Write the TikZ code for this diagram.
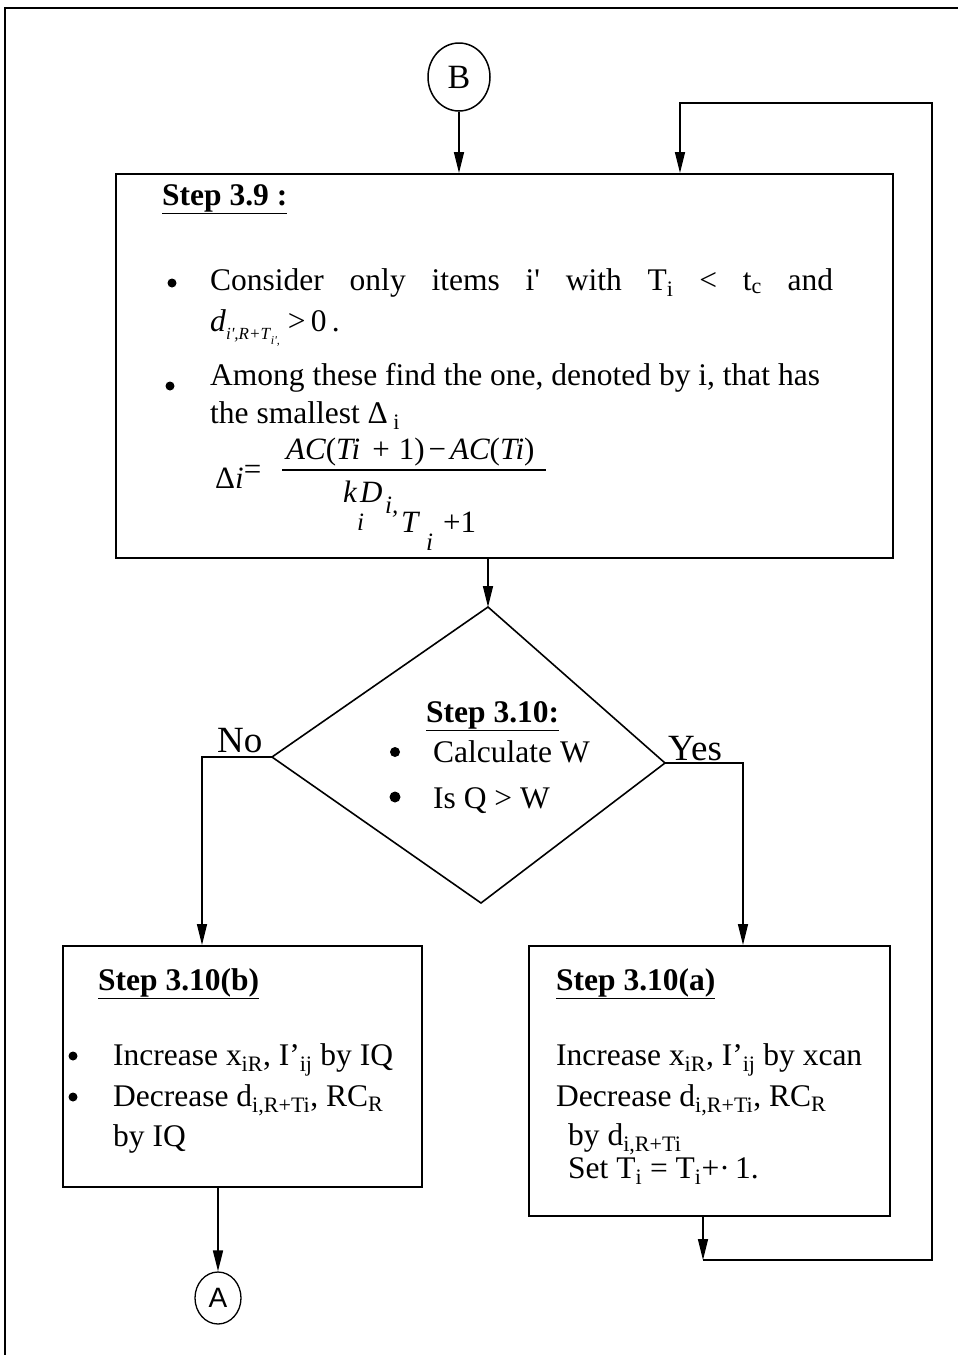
\documentclass[tikz,border=0pt]{standalone}
\usepackage{fontspec}
\setmainfont{Liberation Serif}
\newfontfamily\sansA{Liberation Sans}
\usetikzlibrary{shapes.geometric,arrows.meta}
\begin{document}
\begin{tikzpicture}[x=1pt,y=-1pt,
  box/.style={draw,line width=1.8pt,rectangle,inner sep=0pt,anchor=north west},
  conn/.style={line width=1.6pt},
  arr/.style={conn,-{Triangle[width=10pt,length=21pt]}},
  txt/.style={anchor=base west,inner sep=0pt,font=\fontsize{31.5}{36}\selectfont},
  fml/.style={anchor=base west,inner sep=0pt,font=\fontsize{31}{33}\selectfont\itshape},
  fmlsub/.style={anchor=base west,inner sep=0pt,font=\fontsize{25}{27}\selectfont\itshape},
  big/.style={anchor=base west,inner sep=0pt,font=\fontsize{37}{40}\selectfont},
  dot/.style={circle,fill,inner sep=0pt,minimum size=#1},
  frame/.style={line width=1.2pt}]
\useasboundingbox (0,0) rectangle (958,1355);
% outer frame
\coordinate (fr1) at (5,1355);
\coordinate (fr2) at (5,8);
\coordinate (fr3) at (958,8);
\draw[frame] (fr1) -- (fr2) -- (fr3);

% shapes
\node[draw,ellipse,line width=1.5pt,minimum width=62pt,minimum height=68pt,inner sep=0pt,font=\fontsize{34}{35}\selectfont] (B) at (459,77) {B};
\node[box,minimum width=777pt,minimum height=384pt] (s39) at (115,173) {};
\coordinate (dT) at (488,607);
\coordinate (dL) at (272,757);
\coordinate (dR) at (665,763);
\coordinate (dB) at (481,903);
\draw[line width=1.6pt] (dT) -- (dR) -- (dB) -- (dL) -- cycle;
\node[box,minimum width=359pt,minimum height=241pt] (sb) at (62,945) {};
\node[box,minimum width=361pt,minimum height=270pt] (sa) at (528,945) {};
\node[draw,ellipse,line width=1.3pt,minimum width=46pt,minimum height=52pt,inner sep=0pt,font=\sansA\fontsize{28}{30}\selectfont] (A) at (218,1298) {A};

% connectors
\coordinate (sbin) at (202,945);
\coordinate (sain) at (743,945);
\coordinate (fb1) at (703,1260);
\coordinate (fb2) at (932,1260);
\coordinate (fb3) at (932,103);
\coordinate (fb4) at (680,103);
\coordinate (s39in) at (680,173);
\draw[arr] (B.south) -- (B.south |- s39.north);
\draw[arr] (dT |- s39.south) -- (dT);
\draw[arr] (dL) -| (sbin);
\draw[arr] (dR) -| (sain);
\draw[arr] (sb.south -| A.north) -- (A.north);
\draw[arr] (sa.south -| fb1) -- (fb1);
\draw[arr] (fb1) -- (fb2) -- (fb3) -- (fb4) -- (s39in);

% Step 3.9 text
\node[txt] (h39) at (162,205) {\underline{\textbf{Step 3.9 :}}};
\node[dot=9pt] (b1) at (172,283) {};
\node[txt] (l1) at (210,290) {\hbox to 623pt{Consider\hfill only\hfill items\hfill i\textquotesingle\hfill with\hfill T\textsubscript{i}\hfill <\hfill t\textsubscript{c}\hfill and}};
\node[txt] (l2) at (210,331) {\textit{d}{\fontsize{17}{18}\selectfont\raisebox{-8pt}{\textit{i\textquotesingle,R+T}}\raisebox{-13pt}{\fontsize{12}{12}\selectfont\textit{i\textquotesingle,}}}\hspace{8pt}>\,0\,.};
\node[dot=9pt] (b2) at (170,386) {};
\node[txt] (l3) at (210,385) {Among these find the one, denoted by i, that has};
\node[txt] (l4) at (210,423) {the smallest Δ\textsubscript{ i}};
% formula
\node[fml] (f0) at (215,488) {\upshape Δ\itshape i\upshape\raisebox{9pt}{=}};
\node[fml] (fn) at (286,459) {AC\upshape(\itshape Ti\hspace{12pt}\upshape+\hspace{9pt}1)\hspace{4pt}−\hspace{4pt}\itshape AC\upshape(\itshape Ti\upshape)};
\coordinate (fbarL) at (282,470);
\coordinate (fbarR) at (546,470);
\draw[line width=1.3pt] (fbarL) -- (fbarR);
\node[fml] (fk) at (343,502) {k};
\node[fmlsub] (fki) at (357,530) {i};
\node[fml] (fD) at (360,502) {D};
\node[fmlsub] (fDi) at (385,513) {i,};
\node[fml] (fT) at (401,532) {T};
\node[fmlsub] (fTi) at (426,550) {i};
\node[fml] (fp1) at (443,532) {\upshape +1};

% diamond text
\node[txt] (h310) at (426,722) {\underline{\textbf{Step 3.10:}}};
\node[dot=10pt] (db1) at (395,752) {};
\node[txt] (d1) at (433,762) {Calculate W};
\node[dot=11pt] (db2) at (395,797) {};
\node[txt] (d2) at (433,808) {Is Q > W};
\node[big] (no) at (217,752) {No};
\node[big] (yes) at (668,760) {Yes};

% Step 3.10(b)
\node[txt] (hb) at (98,990) {\underline{\textbf{Step 3.10(b)}}};
\node[dot=9pt] (bb1) at (73,1056) {};
\node[txt] (bl1) at (113,1065) {Increase x\textsubscript{iR}, I’\textsubscript{ij} by IQ};
\node[dot=9pt] (bb2) at (73,1097) {};
\node[txt] (bl2) at (113,1106) {Decrease d\textsubscript{i,R+Ti}, RC\textsubscript{R}};
\node[txt] (bl3) at (113,1146) {by IQ};

% Step 3.10(a)
\node[txt] (ha) at (556,990) {\underline{\textbf{Step 3.10(a)}}};
\node[txt] (al1) at (556,1065) {Increase x\textsubscript{iR}, I’\textsubscript{ij} by xcan};
\node[txt] (al2) at (556,1106) {Decrease d\textsubscript{i,R+Ti}, RC\textsubscript{R}};
\node[txt] (al3) at (568,1145) {by d\textsubscript{i,R+Ti}};
\node[txt] (al4) at (568,1178) {Set T\textsubscript{i} = T\textsubscript{i}+\textperiodcentered\,1.};
\end{tikzpicture}
\end{document}
